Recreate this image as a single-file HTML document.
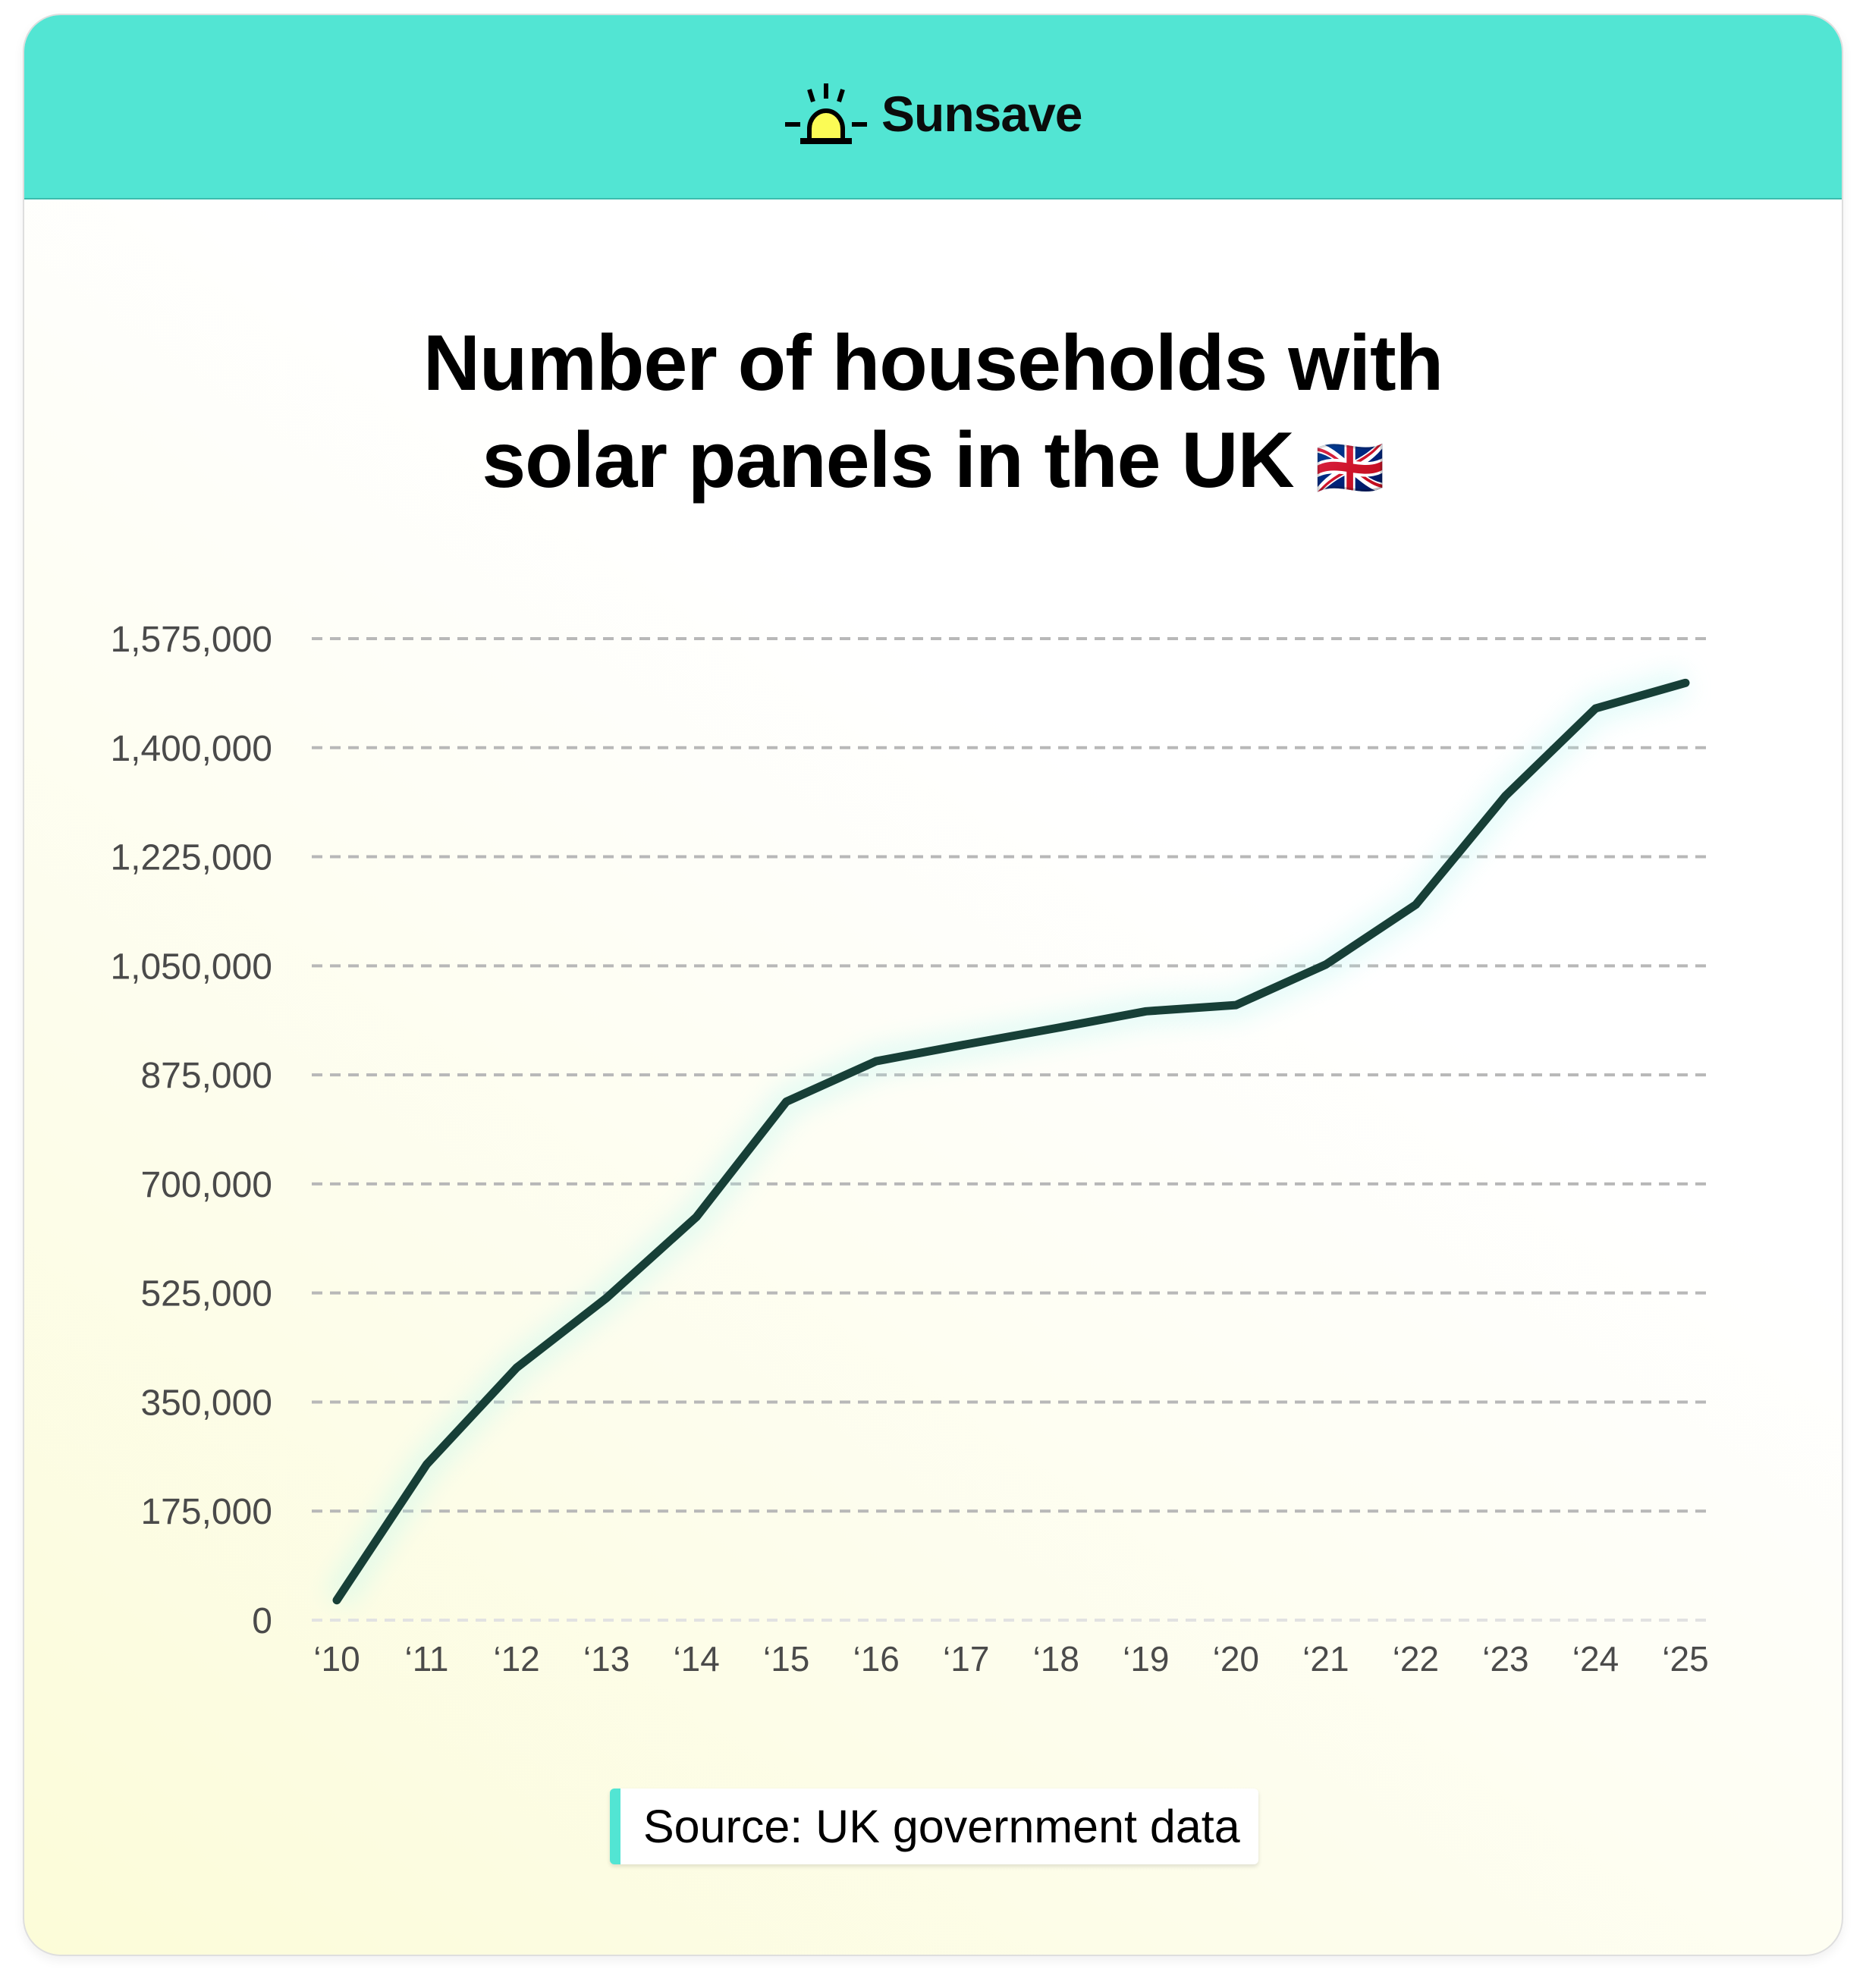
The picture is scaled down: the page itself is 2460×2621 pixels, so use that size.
<!DOCTYPE html>
<html><head><meta charset="utf-8"><style>
html,body{margin:0;padding:0;width:2460px;height:2621px;background:#fff;overflow:hidden;font-family:"Liberation Sans","DejaVu Sans",sans-serif}
#card{position:absolute;left:30px;top:18px;width:2396px;height:2557px;border-radius:50px;overflow:hidden;border:2px solid #dedede;background:linear-gradient(35deg,#fcfcd8 0%,#fdfdec 30%,#ffffff 60%,#ffffff 100%);box-shadow:0 6px 14px rgba(0,0,0,0.06)}
#header{position:absolute;left:0;top:0;width:100%;height:241px;background:#52e5d3;border-bottom:2px solid #3cbcae}
#brand{position:absolute;left:1130px;top:92px;font-size:66px;font-weight:bold;color:#0b0b0b;letter-spacing:-1px}
#title{position:absolute;left:0;top:395px;width:100%;text-align:center;font-size:104px;font-weight:bold;line-height:128px;color:#000;letter-spacing:-1px}
#source{position:absolute;left:772px;top:2338px;width:855px;height:100px;background:#fff;border-radius:6px;box-shadow:0 3px 6px rgba(0,0,0,0.12);border-left:14px solid #52e5d3;box-sizing:border-box;font-size:61px;line-height:100px;padding-left:30px;color:#000;white-space:nowrap}
</style></head><body>
<div id="card">
 <div id="header">
  <svg style="position:absolute;left:999px;top:88px" width="116" height="100" viewBox="0 0 116 100">
   <path d="M36 78 L36 62 A22 24 0 0 1 80 62 L80 78 Z" fill="#fbfb55" stroke="#000" stroke-width="6"/>
   <rect x="24" y="74" width="68" height="8" fill="#000"/>
   <line x1="58" y1="2" x2="58" y2="22" stroke="#000" stroke-width="6"/>
   <line x1="36" y1="10" x2="41" y2="26" stroke="#000" stroke-width="6"/>
   <line x1="80" y1="10" x2="75" y2="26" stroke="#000" stroke-width="6"/>
   <line x1="4" y1="56" x2="24" y2="56" stroke="#000" stroke-width="6"/>
   <line x1="92" y1="56" x2="112" y2="56" stroke="#000" stroke-width="6"/>
  </svg>
  <div id="brand">Sunsave</div>
 </div>
 <div id="title">Number of households with<br>solar panels in the UK <span style='font-family:"Noto Sans CJK SC",sans-serif;font-size:74px'>🇬🇧</span></div>
 <div id="source">Source: UK government data</div>
</div>
<svg id="chart" style="position:absolute;left:0;top:0" width="2460" height="2621">
 <defs><filter id="glow" x="-20%" y="-20%" width="140%" height="140%"><feGaussianBlur stdDeviation="16"/></filter></defs>
 <g id="grid"></g><g id="ylabels"></g><g id="xlabels"></g><g id="series"></g>
</svg>
<script>
const categories=["‘10","‘11","‘12","‘13","‘14","‘15","‘16","‘17","‘18","‘19","‘20","‘21","‘22","‘23","‘24","‘25"];
const values=[32000,250000,405000,517000,647000,832000,897000,924000,950000,977000,987000,1052000,1148000,1323000,1463000,1504000];
const yTicks=[0,175000,350000,525000,700000,875000,1050000,1225000,1400000,1575000];
const yTickLabels=["0","175,000","350,000","525,000","700,000","875,000","1,050,000","1,225,000","1,400,000","1,575,000"];
const NS="http://www.w3.org/2000/svg";
const x0=444,x1=2222,yb=2136,yt=842,yMax=1575000;
function xs(i){return x0+(x1-x0)*i/(categories.length-1);}
function ys(v){return yb-(yb-yt)*v/yMax;}
const grid=document.getElementById('grid'),yl=document.getElementById('ylabels'),xl=document.getElementById('xlabels'),se=document.getElementById('series');
yTicks.forEach((t,i)=>{
 const l=document.createElementNS(NS,'line');
 l.setAttribute('x1',411);l.setAttribute('x2',2253);l.setAttribute('y1',ys(t));l.setAttribute('y2',ys(t));
 l.setAttribute('stroke',i==0?'#e2e2e2':'#b8b8b8');l.setAttribute('stroke-width',4);l.setAttribute('stroke-dasharray','14 10');
 
 
 grid.appendChild(l);
 const tx=document.createElementNS(NS,'text');
 tx.setAttribute('x',359);tx.setAttribute('y',ys(t)+17);tx.setAttribute('text-anchor','end');
 tx.setAttribute('font-size',48);tx.setAttribute('fill','#4a4a4a');tx.setAttribute('font-family','Liberation Sans, sans-serif');
 tx.textContent=yTickLabels[i];
 
 
 yl.appendChild(tx);
});
categories.forEach((c,i)=>{
 const tx=document.createElementNS(NS,'text');
 tx.setAttribute('x',xs(i));tx.setAttribute('y',2203);tx.setAttribute('text-anchor','middle');
 tx.setAttribute('font-size',46);tx.setAttribute('fill','#4a4a4a');tx.setAttribute('font-family','Liberation Sans, sans-serif');
 tx.textContent=c;
 
 
 xl.appendChild(tx);
});
const pts=values.map((v,i)=>xs(i)+','+ys(v)).join(' ');
const g=document.createElementNS(NS,'polyline');
g.setAttribute('points',pts);g.setAttribute('fill','none');g.setAttribute('stroke','#b5f5f0');g.setAttribute('stroke-width',40);g.setAttribute('opacity',0.35);g.setAttribute('filter','url(#glow)');


se.appendChild(g);
const p=document.createElementNS(NS,'polyline');
p.setAttribute('points',pts);p.setAttribute('fill','none');p.setAttribute('stroke','#173f37');p.setAttribute('stroke-width',11);p.setAttribute('stroke-linejoin','round');p.setAttribute('stroke-linecap','round');


se.appendChild(p);
</script>
</body></html>
